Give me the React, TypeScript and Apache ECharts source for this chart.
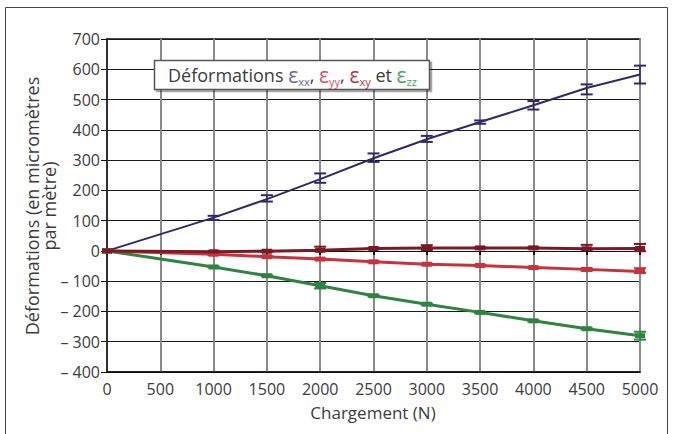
import React, { useEffect, useRef } from "react";
import * as echarts from "echarts";

// Applied load (N)
const loads = [0, 1000, 1500, 2000, 2500, 3000, 3500, 4000, 4500, 5000];

// Measured strains (micrometres per metre) and their uncertainty ranges
const exx = [0, 110, 171, 237, 306, 369, 426, 481, 538, 583];
const exxLow = [0, 102, 163, 225, 294, 360, 420, 467, 517, 553];
const exxHigh = [0, 116, 184, 256, 322, 380, 431, 495, 550, 612];

const eyy = [0, -11, -19, -27, -36, -44, -48, -55, -61, -68];
const eyyLow = [0, -13, -21, -29, -38, -46, -50, -57, -66, -73];
const eyyHigh = [0, -9, -17, -25, -34, -42, -46, -53, -57, -57];

const exy = [0, -3, -1, 2, 8, 10, 10, 10, 7, 8];
const exyLow = [0, -5, -3, -1, 6, 3, 8, 8, 4, -1];
const exyHigh = [0, -1, 1, 14, 10, 19, 12, 12, 20, 23];

const ezz = [0, -53, -82, -115, -148, -176, -203, -231, -257, -280];
const ezzLow = [0, -55, -84, -124, -150, -178, -205, -233, -259, -293];
const ezzHigh = [0, -51, -80, -106, -146, -174, -201, -229, -255, -267];

const xTicks = { min: 0, max: 5000, interval: 500 };
const yTicks = { min: -400, max: 700, interval: 100 };

const FONT = "Open Sans";
const TEXT = "#3c3c3c";

const COLORS = {
  xx: "#2e2a6a",
  yy: "#c8323e",
  xy: "#7a1a24",
  zz: "#2e8440",
};

const pairs = (vals: number[]) => loads.map((x, i) => [x, vals[i]]);
const ranges = (lo: number[], hi: number[]) =>
  loads
    .map((x, i) => [x, lo[i], hi[i]])
    .filter((d) => d[0] !== 0);

function errorBars(name: string, color: string, lo: number[], hi: number[], capHalf: number) {
  return {
    name: name + "-err",
    type: "custom",
    data: ranges(lo, hi),
    z: 4,
    renderItem: (_params: any, api: any) => {
      const x = api.value(0);
      const top = api.coord([x, api.value(2)]);
      const bot = api.coord([x, api.value(1)]);
      const style = { stroke: color, lineWidth: 2 };
      return {
        type: "group",
        children: [
          { type: "line", shape: { x1: top[0], y1: top[1], x2: bot[0], y2: bot[1] }, style: { stroke: color, lineWidth: 1.5 } },
          { type: "line", shape: { x1: top[0] - capHalf, y1: top[1], x2: top[0] + capHalf, y2: top[1] }, style },
          { type: "line", shape: { x1: bot[0] - capHalf, y1: bot[1], x2: bot[0] + capHalf, y2: bot[1] }, style },
        ],
      };
    },
  };
}

function strainLine(name: string, color: string, vals: number[], width: number, marks: boolean) {
  return {
    name,
    type: "line",
    data: pairs(vals),
    z: 3,
    lineStyle: { color, width },
    itemStyle: { color },
    showSymbol: marks,
    symbol: "rect",
    symbolSize: [10, 5],
  };
}

export default function App() {
  const ref = useRef<HTMLDivElement>(null);

  useEffect(() => {
    if (!ref.current) return;
    const chart = echarts.init(ref.current, undefined, { renderer: "svg" });
    chart.setOption({
      animation: false,
      backgroundColor: "#ffffff",
      grid: {
        left: 107,
        right: 33,
        top: 39,
        bottom: 62,
        show: true,
        borderColor: "#111111",
        borderWidth: 1.5,
        backgroundColor: "transparent",
      },
      xAxis: [
        {
          type: "value",
          ...xTicks,
          position: "bottom",
          axisLine: { show: true, onZero: false, lineStyle: { color: "#111111", width: 1.5 } },
          axisTick: { show: false },
          axisLabel: {
            color: TEXT,
            fontFamily: FONT,
            fontSize: 16,
            margin: 9,
            formatter: (v: number) => String(v),
          },
          splitLine: { show: true, lineStyle: { color: "#8a8a8a", width: 2 } },
        },
        {
          type: "value",
          ...xTicks,
          position: "top",
          axisLine: { show: true, onZero: true, lineStyle: { color: "#111111", width: 1 } },
          axisTick: { show: true, inside: true, length: 4, lineStyle: { color: "#111111", width: 2 } },
          axisLabel: { show: false },
          splitLine: { show: false },
        },
      ],
      yAxis: {
        type: "value",
        ...yTicks,
        axisLine: { show: true, onZero: false, lineStyle: { color: "#111111", width: 1.5 } },
        axisTick: { show: true, length: 6, lineStyle: { color: "#111111", width: 1 } },
        axisLabel: {
          color: TEXT,
          fontFamily: FONT,
          fontSize: 16,
          margin: 7,
          formatter: (v: number) => (v < 0 ? "\u2013 " + Math.abs(v) : String(v)),
        },
        splitLine: { show: true, lineStyle: { color: "#1a1a1a", width: 1 } },
      },
      graphic: [
        {
          type: "rect",
          shape: { x: 5.5, y: 7.5, width: 662, height: 450 },
          style: { fill: "none", stroke: "#444444", lineWidth: 1 },
          silent: true,
          z: 0,
        },
        {
          type: "rect",
          shape: { x: 154.5, y: 60.5, width: 275, height: 29 },
          style: {
            fill: "#ffffff",
            stroke: "#555555",
            lineWidth: 1.5,
            shadowColor: "rgba(0,0,0,0.35)",
            shadowOffsetX: 2,
            shadowOffsetY: 2,
            shadowBlur: 0,
          },
          z: 10,
        },
        {
          type: "text",
          x: 168,
          y: 75,
          z: 11,
          style: {
            text:
              "{a|Déformations }{x|ε}{xs|xx}{a|, }{y|ε}{ys|yy}{a|, }{r|ε}{rs|xy}{a| et }{z|ε}{zs|zz}",
            verticalAlign: "middle",
            align: "left",
            fontFamily: FONT,
            rich: {
              a: { fontFamily: FONT, fontSize: 18, fill: TEXT },
              x: { fontFamily: FONT, fontSize: 21, fill: "#6a66a6" },
              xs: { fontFamily: FONT, fontSize: 11, fill: "#6a66a6", padding: [12, 0, 0, 0] },
              y: { fontFamily: FONT, fontSize: 21, fill: "#e0505c" },
              ys: { fontFamily: FONT, fontSize: 11, fill: "#e0505c", padding: [12, 0, 0, 0] },
              r: { fontFamily: FONT, fontSize: 21, fill: "#b03848" },
              rs: { fontFamily: FONT, fontSize: 11, fill: "#b03848", padding: [12, 0, 0, 0] },
              z: { fontFamily: FONT, fontSize: 21, fill: "#4aa45c" },
              zs: { fontFamily: FONT, fontSize: 11, fill: "#4aa45c", padding: [12, 0, 0, 0] },
            },
          },
        },
        {
          type: "text",
          x: 40,
          y: 206,
          rotation: Math.PI / 2,
          style: {
            text: "Déformations (en micromètres\npar mètre)",
            fontFamily: FONT,
            fontSize: 18,
            lineHeight: 17,
            fill: TEXT,
            align: "center",
            verticalAlign: "middle",
          },
        },
        {
          type: "text",
          x: 373,
          y: 412,
          style: {
            text: "Chargement (N)",
            fontFamily: FONT,
            fontSize: 17,
            fill: TEXT,
            align: "center",
            verticalAlign: "middle",
          },
        },
      ],
      series: [
        strainLine("εzz", COLORS.zz, ezz, 3, true),
        strainLine("εyy", COLORS.yy, eyy, 3, true),
        strainLine("εxy", COLORS.xy, exy, 3, true),
        strainLine("εxx", COLORS.xx, exx, 2, false),
        errorBars("εzz", COLORS.zz, ezzLow, ezzHigh, 6),
        errorBars("εyy", COLORS.yy, eyyLow, eyyHigh, 6),
        errorBars("εxy", COLORS.xy, exyLow, exyHigh, 6),
        errorBars("εxx", COLORS.xx, exxLow, exxHigh, 6),
      ],
    });
    return () => chart.dispose();
  }, []);

  return (
    <div
      ref={ref}
      style={{ position: "absolute", left: 0, top: 0, width: 673, height: 434 }}
    />
  );
}
